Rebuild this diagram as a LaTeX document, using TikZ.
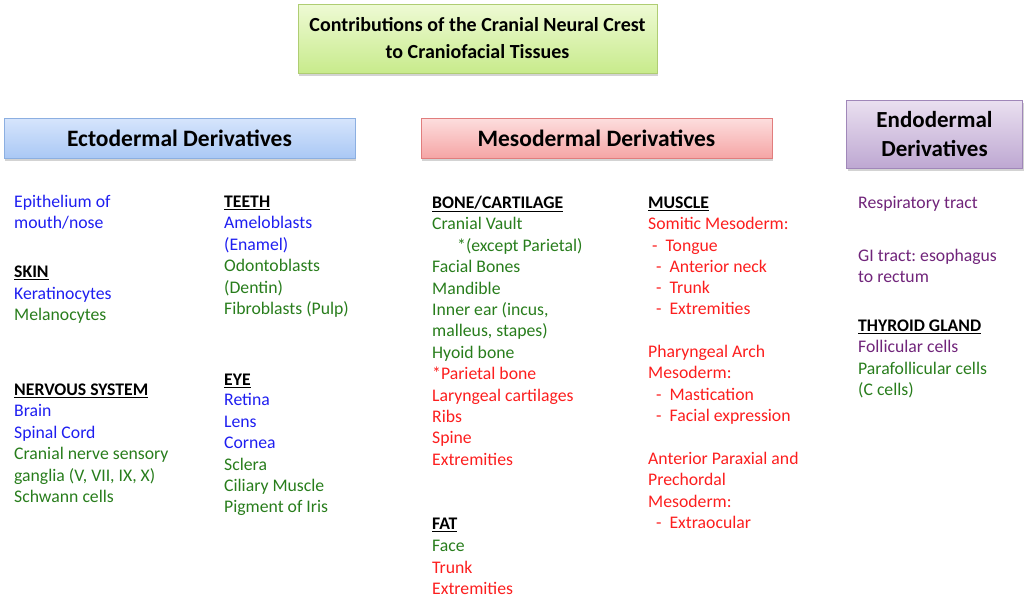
\documentclass[tikz,border=0pt]{standalone}
\usepackage{fontspec}
\setmainfont{Carlito}
\frenchspacing
\usetikzlibrary{shadows}
\definecolor{tblue}{RGB}{30,30,240}
\definecolor{tgreen}{RGB}{40,125,28}
\definecolor{tred}{RGB}{252,30,30}
\definecolor{tpurple}{RGB}{112,36,122}
\definecolor{gdraw}{RGB}{175,205,115}
\definecolor{gtop}{RGB}{238,250,212}
\definecolor{gbot}{RGB}{200,235,140}
\definecolor{bdraw}{RGB}{140,175,225}
\definecolor{btop}{RGB}{214,229,252}
\definecolor{bbot}{RGB}{170,200,245}
\definecolor{rdraw}{RGB}{225,125,125}
\definecolor{rtop}{RGB}{253,222,222}
\definecolor{rbot}{RGB}{245,165,165}
\definecolor{pdraw}{RGB}{160,135,185}
\definecolor{ptop}{RGB}{234,224,240}
\definecolor{pbot}{RGB}{190,168,210}
\tikzset{
  box/.style={line width=0.8pt, align=center, inner sep=0pt,
    drop shadow={opacity=0.35, shadow xshift=1pt, shadow yshift=-2.5pt}},
  titlebox/.style={box, draw=gdraw, top color=gtop, bottom color=gbot,
    minimum width=359, minimum height=69, font=\fontsize{20}{27}\selectfont\bfseries},
  ectobox/.style={box, draw=bdraw, top color=btop, bottom color=bbot,
    minimum width=351, minimum height=40, font=\fontsize{23.5}{28}\selectfont\bfseries},
  mesobox/.style={box, draw=rdraw, top color=rtop, bottom color=rbot,
    minimum width=351, minimum height=40, font=\fontsize{23.5}{28}\selectfont\bfseries},
  endobox/.style={box, draw=pdraw, top color=ptop, bottom color=pbot,
    minimum width=176, minimum height=68, font=\fontsize{23}{29}\selectfont\bfseries},
  ln/.style={anchor=west, inner sep=0pt, text height=13.5pt, text depth=2.5pt,
    font=\fontsize{17.7}{21}\selectfont},
  hd/.style={ln, font=\fontsize{17.7}{21}\selectfont\bfseries},
  bl/.style={ln, text=tblue},
  gr/.style={ln, text=tgreen},
  rd/.style={ln, text=tred},
  pu/.style={ln, text=tpurple}
}
\begin{document}
\begin{tikzpicture}[x=1pt, y=-1pt]
\useasboundingbox (0,0) rectangle (1028,598);
% header boxes
\node[titlebox] (title) at (477.5,38.5) {Contributions of the Cranial Neural Crest\\to Craniofacial Tissues};
\node[ectobox] (ecto) at (179.5,138) {Ectodermal Derivatives};
\node[mesobox] (meso) at (596.5,138) {Mesodermal Derivatives};
\node[endobox] (endo) at (934.5,134) {Endodermal\\Derivatives};
% column 1
\node[bl] (a1) at (14,202) {Epithelium of};
\node[bl] (a2) at (14,223) {mouth/nose};
\node[hd] (a3) at (14,272) {\underline{SKIN}};
\node[bl] (a4) at (14,294) {Keratinocytes};
\node[gr] (a5) at (14,315) {Melanocytes};
\node[hd] (a6) at (14,390) {\underline{NERVOUS SYSTEM}};
\node[bl] (a7) at (14,411) {Brain};
\node[bl] (a8) at (14,433) {Spinal Cord};
\node[gr] (a9) at (14,454) {Cranial nerve sensory};
\node[gr] (a10) at (14,476) {ganglia (V, VII, IX, X)};
\node[gr] (a11) at (14,497) {Schwann cells};
% column 2
\node[hd] (b1) at (224,202) {\underline{TEETH}};
\node[bl] (b2) at (224,223) {Ameloblasts};
\node[bl] (b3) at (224,245) {(Enamel)};
\node[gr] (b4) at (224,266) {Odontoblasts};
\node[gr] (b5) at (224,288) {(Dentin)};
\node[gr] (b6) at (224,309) {Fibroblasts (Pulp)};
\node[hd] (b7) at (224,380) {\underline{EYE}};
\node[bl] (b8) at (224,400) {Retina};
\node[bl] (b9) at (224,422) {Lens};
\node[bl] (b10) at (224,443) {Cornea};
\node[gr] (b11) at (224,465) {Sclera};
\node[gr] (b12) at (224,486) {Ciliary Muscle};
\node[gr] (b13) at (224,507) {Pigment of Iris};
% column 3
\node[hd] (c1) at (432,203) {\underline{BONE/CARTILAGE}};
\node[gr] (c2) at (432,224) {Cranial Vault};
\node[gr] (c3) at (457,246) {*(except Parietal)};
\node[gr] (c4) at (432,267) {Facial Bones};
\node[gr] (c5) at (432,289) {Mandible};
\node[gr] (c6) at (432,310) {Inner ear (incus,};
\node[gr] (c7) at (432,331) {malleus, stapes)};
\node[gr] (c8) at (432,353) {Hyoid bone};
\node[rd] (c9) at (432,374) {*Parietal bone};
\node[rd] (c10) at (432,396) {Laryngeal cartilages};
\node[rd] (c11) at (432,417) {Ribs};
\node[rd] (c12) at (432,438) {Spine};
\node[rd] (c13) at (432,460) {Extremities};
\node[hd] (c14) at (432,524) {\underline{FAT}};
\node[gr] (c15) at (432,546) {Face};
\node[rd] (c16) at (432,568) {Trunk};
\node[rd] (c17) at (432,589) {Extremities};
% column 4
\node[hd] (d1) at (648,203) {\underline{MUSCLE}};
\node[rd] (d2) at (648,224) {Somitic Mesoderm:};
\node[rd] (d3) at (652,246) {-\hspace{8pt}Tongue};
\node[rd] (d4) at (656,267) {-\hspace{8pt}Anterior neck};
\node[rd] (d5) at (656,288) {-\hspace{8pt}Trunk};
\node[rd] (d6) at (656,309) {-\hspace{8pt}Extremities};
\node[rd] (d7) at (648,352) {Pharyngeal Arch};
\node[rd] (d8) at (648,373) {Mesoderm:};
\node[rd] (d9) at (656,395) {-\hspace{8pt}Mastication};
\node[rd] (d10) at (656,416) {-\hspace{8pt}Facial expression};
\node[rd] (d11) at (648,459) {Anterior Paraxial and};
\node[rd] (d12) at (648,480) {Prechordal};
\node[rd] (d13) at (648,502) {Mesoderm:};
\node[rd] (d14) at (656,523) {-\hspace{8pt}Extraocular};
% column 5
\node[pu] (e1) at (858,203) {Respiratory tract};
\node[pu] (e2) at (858,256) {GI tract: esophagus};
\node[pu] (e3) at (858,277) {to rectum};
\node[hd] (e4) at (858,326) {\underline{THYROID GLAND}};
\node[pu] (e5) at (858,347) {Follicular cells};
\node[gr] (e6) at (858,369) {Parafollicular cells};
\node[gr] (e7) at (858,390) {(C cells)};
\end{tikzpicture}
\end{document}
